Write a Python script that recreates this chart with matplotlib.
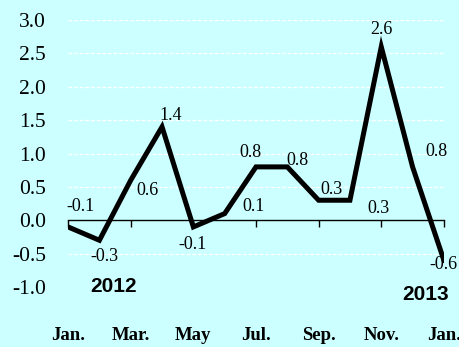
import matplotlib
matplotlib.use("Agg")
import matplotlib.pyplot as plt

# monthly change, Jan 2012 .. Jan 2013
months = ['Jan.', 'Feb.', 'Mar.', 'Apr.', 'May', 'Jun.', 'Jul.', 'Aug.',
          'Sep.', 'Oct.', 'Nov.', 'Dec.', 'Jan.']
values = [-0.1, -0.3, 0.6, 1.4, -0.1, 0.1, 0.8, 0.8, 0.3, 0.3, 2.6, 0.8, -0.6]
yticks = [-1.0, -0.5, 0.0, 0.5, 1.0, 1.5, 2.0, 2.5, 3.0]

# label offsets (pixels) for each point
offsets = [(12, 20), (5, -16), (17, -10), (9, 11), (-1, -18), (29, 7),
           (-6, 14), (10, 6), (13, 11), (29, -8), (0, 17), (24, 15), (0, -4)]

bg = '#CCFFFF'
serif = 'Liberation Serif'
sans = 'Liberation Sans'

fig = plt.figure(figsize=(4.6, 3.47), dpi=100, facecolor=bg)
ax = fig.add_axes([0.148, 0.173, 0.817, 0.769], facecolor=bg)

x = list(range(len(values)))
ax.set_xlim(0, 12)
ax.set_ylim(-1.0, 3.0)

# white dashed grid
for v in yticks:
    if v != 0:
        ax.axhline(v, color='white', lw=0.9, ls=(0, (3, 1.5)), zorder=1)

ax.plot(x, values, color='black', lw=3.6, solid_joinstyle='miter', zorder=3)

for xi, v, (dx, dy) in zip(x, values, offsets):
    ax.annotate(f'{v:.1f}', (xi, v), xytext=(dx, dy), textcoords='offset pixels',
                ha='center', va='center', fontsize=13, family=serif, zorder=4)

for s in ['top', 'right', 'left']:
    ax.spines[s].set_visible(False)
ax.spines['bottom'].set_position(('data', 0))
ax.spines['bottom'].set_linewidth(1.0)

ax.set_xticks(x[::2])
ax.set_xticklabels([])
ax.tick_params(axis='x', direction='out', length=5, width=1)

ax.set_yticks(yticks)
ax.set_yticklabels([f'{v:.1f}' for v in yticks], family=serif, fontsize=15.5)
ax.tick_params(axis='y', length=0, pad=16)

# month names along the bottom
for xi in x[::2]:
    ax.text(xi, -0.18, months[xi], transform=ax.get_xaxis_transform(),
            ha='center', va='center', fontsize=13.5, fontweight='bold', family=serif)

ax.text(1.45, -1.0, '2012', ha='center', va='center', fontsize=15,
        fontweight='bold', family=sans)
ax.text(11.4, -1.12, '2013', ha='center', va='center', fontsize=15,
        fontweight='bold', family=sans)

fig.savefig('out.png', dpi=100, facecolor=bg)
